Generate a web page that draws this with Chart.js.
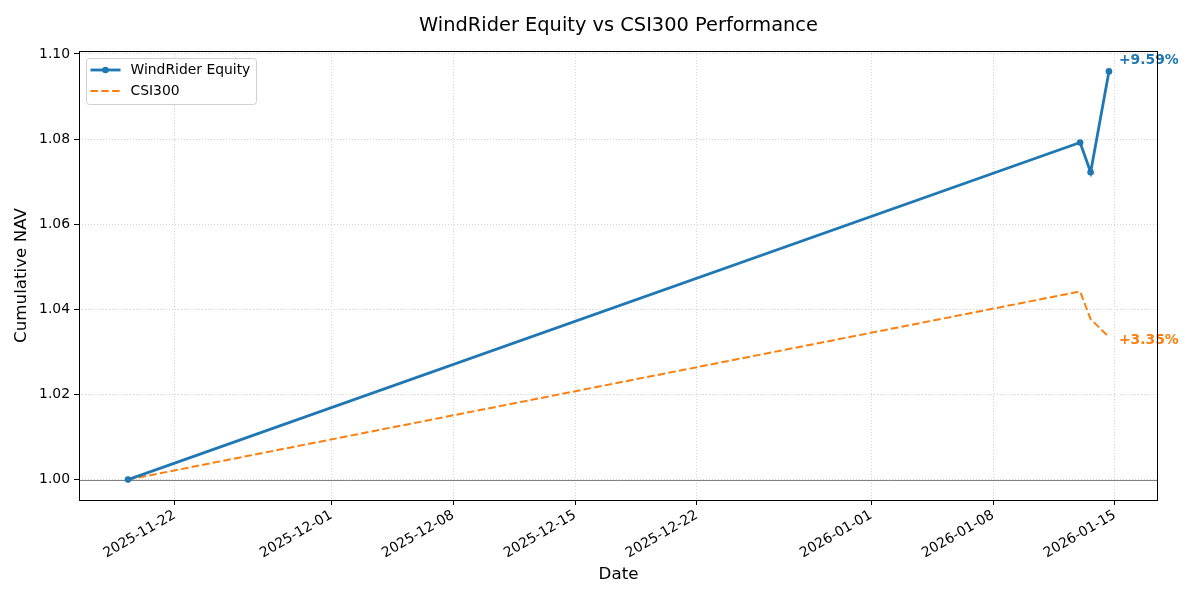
<!DOCTYPE html>
<html>
<head>
<meta charset="utf-8">
<script src="https://cdn.jsdelivr.net/npm/chart.js@4.4.1/dist/chart.umd.min.js"></script>
<style>
  body { margin: 0; background: #fff; }
  #wrap { width: 1200px; height: 600px; }
</style>
</head>
<body>
<div id="wrap"><canvas id="nav-chart"></canvas></div>
<script>
// data
const dates = ['2025-11-19T08:00Z', '2026-01-13T00:00Z', '2026-01-13T14:30Z', '2026-01-14T15:45Z'];
const windRiderNav = [1.0, 1.0792, 1.0722, 1.0959];
const csi300Nav = [1.0, 1.0442, 1.0377, 1.0335];
const xTickLabels = ['2025-11-22', '2025-12-01', '2025-12-08', '2025-12-15', '2025-12-22', '2026-01-01', '2026-01-08', '2026-01-15'];
const yTickValues = [1.00, 1.02, 1.04, 1.06, 1.08, 1.10];
const baseline = 1.0;
const chartTitle = 'WindRider Equity vs CSI300 Performance';

const DAY = 86400000;
const toDays = s => Date.parse(s) / DAY;
const xs = dates.map(toDays);

// matplotlib-like 5% autoscale margins
const pad = (lo, hi) => [lo - (hi - lo) * 0.05, hi + (hi - lo) * 0.05];
const [xMin, xMax] = pad(Math.min(...xs), Math.max(...xs));
const allY = windRiderNav.concat(csi300Nav);
const [yMin, yMax] = pad(Math.min(...allY), Math.max(...allY));

Chart.defaults.font.family = 'DejaVu Sans';
Chart.defaults.color = '#000';

const labelOffsets = [-11, 3];

const extras = {
    id: 'extras',
    beforeDatasetsDraw(chart) {
        const {ctx, chartArea: a, scales: {y}} = chart;
        const py = Math.round(y.getPixelForValue(baseline)) + 0.5;
        ctx.save();
        ctx.strokeStyle = '#808080';
        ctx.lineWidth = 1;
        ctx.beginPath();
        ctx.moveTo(a.left, py);
        ctx.lineTo(a.right, py);
        ctx.stroke();
        ctx.restore();
    },
    afterDatasetsDraw(chart) {
        // end-of-line return labels
        const {ctx, scales: {x, y}} = chart;
        ctx.save();
        ctx.font = 'bold 13.9px "DejaVu Sans"';
        ctx.textAlign = 'left';
        ctx.textBaseline = 'middle';
        chart.data.datasets.forEach((ds, i) => {
            const last = ds.data[ds.data.length - 1];
            const txt = '+' + ((last.y - 1) * 100).toFixed(2) + '%';
            ctx.fillStyle = ds.borderColor;
            ctx.fillText(txt, x.getPixelForValue(last.x) + 10, y.getPixelForValue(last.y) + labelOffsets[i]);
        });
        ctx.restore();
    },
    afterDraw(chart) {
        const {ctx, chartArea: a} = chart;
        ctx.save();
        // title centred over the axes
        ctx.font = '19.4px "DejaVu Sans"';
        ctx.fillStyle = '#000';
        ctx.textAlign = 'center';
        ctx.textBaseline = 'alphabetic';
        ctx.fillText(chartTitle, (a.left + a.right) / 2, 31);

        // full frame
        ctx.strokeStyle = '#000';
        ctx.lineWidth = 1;
        ctx.strokeRect(a.left + 0.5, a.top + 0.5, a.right - a.left - 1, a.bottom - a.top);

        // legend box, upper left
        const bx = a.left + 7.5, by = a.top + 7.5, bw = 170, bh = 46;
        ctx.fillStyle = 'rgba(255,255,255,0.8)';
        ctx.strokeStyle = '#d0d0d0';
        ctx.beginPath();
        ctx.roundRect(bx, by, bw, bh, 3);
        ctx.fill();
        ctx.stroke();

        ctx.font = '13.9px "DejaVu Sans"';
        ctx.textAlign = 'left';
        ctx.textBaseline = 'middle';
        chart.data.datasets.forEach((ds, i) => {
            const ry = by + 11.5 + i * 21;
            ctx.strokeStyle = ds.borderColor;
            ctx.lineWidth = ds.borderWidth;
            ctx.setLineDash(ds.borderDash || []);
            ctx.beginPath();
            ctx.moveTo(bx + 4, ry);
            ctx.lineTo(bx + 34, ry);
            ctx.stroke();
            ctx.setLineDash([]);
            if (ds.pointRadius > 0) {
                ctx.fillStyle = ds.borderColor;
                ctx.beginPath();
                ctx.arc(bx + 19, ry, ds.pointRadius, 0, Math.PI * 2);
                ctx.fill();
            }
            ctx.fillStyle = '#000';
            ctx.fillText(ds.label, bx + 44, ry);
        });
        ctx.restore();
    }
};

const ctx = document.getElementById('nav-chart').getContext('2d');
const chart = new Chart(ctx, {
    type: 'line',
    data: {
        datasets: [{
            label: 'WindRider Equity',
            data: xs.map((x, i) => ({x: x, y: windRiderNav[i]})),
            borderColor: '#1f77b4',
            backgroundColor: '#1f77b4',
            borderWidth: 2.8,
            pointRadius: 3.3,
            pointBorderWidth: 0,
            pointBackgroundColor: '#1f77b4',
            tension: 0,
            fill: false
        }, {
            label: 'CSI300',
            data: xs.map((x, i) => ({x: x, y: csi300Nav[i]})),
            borderColor: '#ff7f0e',
            backgroundColor: '#ff7f0e',
            borderWidth: 2,
            borderDash: [7.5, 3.3],
            pointRadius: 0,
            tension: 0,
            fill: false
        }]
    },
    options: {
        responsive: true,
        maintainAspectRatio: false,
        animation: false,
        layout: { padding: { left: 0, right: 42, top: 51, bottom: 0 } },
        scales: {
            x: {
                type: 'linear',
                min: xMin,
                max: xMax,
                afterBuildTicks: s => { s.ticks = xTickLabels.map(t => ({value: toDays(t)})); },
                afterFit: s => { s.height = 100; },
                ticks: {
                    minRotation: 30,
                    maxRotation: 30,
                    font: { size: 13.9 },
                    padding: 2,
                    callback: v => new Date(v * DAY).toISOString().slice(0, 10)
                },
                grid: { color: '#d3d3d3', lineWidth: 1, tickLength: 5, tickColor: '#000', tickWidth: 1 },
                border: { display: false, dash: [1, 2] },
                title: { display: true, text: 'Date', font: { size: 16.7 }, padding: { top: 0, bottom: 15 } }
            },
            y: {
                min: yMin,
                max: yMax,
                afterBuildTicks: s => { s.ticks = yTickValues.map(v => ({value: v})); },
                afterFit: s => { s.width = 79; },
                ticks: {
                    font: { size: 13.9 },
                    padding: 4,
                    callback: v => v.toFixed(2)
                },
                grid: { color: '#d3d3d3', lineWidth: 1, tickLength: 5, tickColor: '#000', tickWidth: 1 },
                border: { display: false, dash: [1, 2] },
                title: { display: true, text: 'Cumulative NAV', font: { size: 16.7 }, padding: { top: 12, bottom: 0 } }
            }
        },
        plugins: {
            legend: { display: false },
            tooltip: { enabled: false },
            title: { display: false }
        }
    },
    plugins: [extras]
});
</script>
</body>
</html>
